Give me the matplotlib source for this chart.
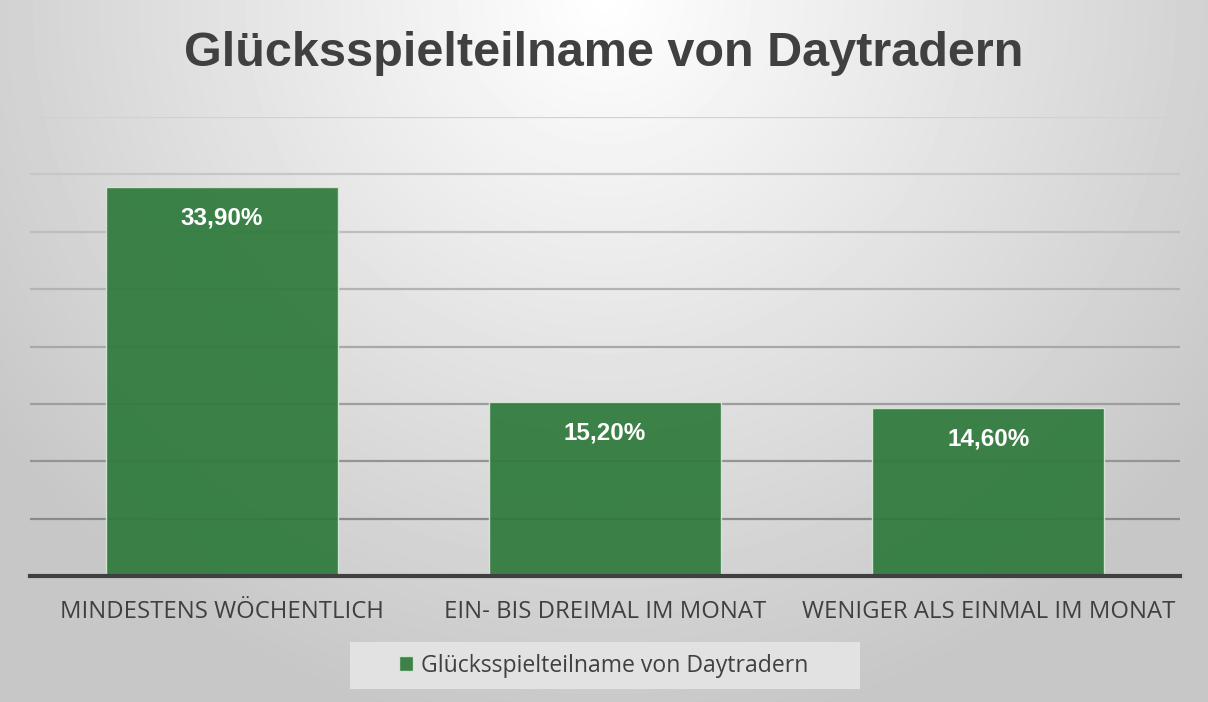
import numpy as np
import matplotlib.pyplot as plt
from matplotlib.patches import Rectangle

# Daten
kategorien = ["MINDESTENS WÖCHENTLICH", "EIN- BIS DREIMAL IM MONAT", "WENIGER ALS EINMAL IM MONAT"]
werte = [33.9, 15.2, 14.6]
wert_labels = ["33,90%", "15,20%", "14,60%"]
titel = "Glücksspielteilname von Daytradern"
serie = "Glücksspielteilname von Daytradern"
gitter = np.arange(5, 41, 5)

plt.rcParams['font.family'] = ['Open Sans', 'DejaVu Sans']

W, H = 1208, 702
fig = plt.figure(figsize=(W / 100, H / 100), dpi=100)

# Hintergrund: radialer Verlauf
bg = fig.add_axes([0, 0, 1, 1])
yy, xx = np.mgrid[0:H, 0:W]
r = np.sqrt(((xx - W * 0.5) / (W * 0.62)) ** 2 + ((yy - 0) / (H * 1.05)) ** 2)
r = np.clip(r, 0, 1)
grau = 1.0 - (1.0 - 0.78) * r
bg.imshow(grau, cmap="gray", vmin=0, vmax=1, aspect="auto", extent=[0, 1, 0, 1], origin="upper")
bg.set_axis_off()

# Diagrammbereich
ax = fig.add_axes([30 / W, 1 - 576 / H, 1150 / W, (576 - 117) / H])
ax.patch.set_alpha(0)
x = np.arange(len(kategorien))
ax.set_xlim(-0.5, len(kategorien) - 0.5)
ax.set_ylim(0, 40)

# Gitterlinien: oben heller, unten dunkler
for g in gitter:
    t = g / 40
    c = 0.50 + 0.32 * t
    ax.axhline(g, color=(c, c, c), linewidth=1.6, zorder=1)

for s in ["top", "right", "left"]:
    ax.spines[s].set_visible(False)
ax.spines["bottom"].set_color("#404040")
ax.spines["bottom"].set_linewidth(3)
ax.spines["bottom"].set_zorder(5)
ax.tick_params(left=False, labelleft=False, bottom=False)

balken = ax.bar(x, werte, width=0.605, color="#2e7a3c", alpha=0.93,
                edgecolor="#d8e8d8", linewidth=1, zorder=3)

for xi, v, lab in zip(x, werte, wert_labels):
    ax.annotate(lab, (xi, v), xytext=(0, -14), textcoords="offset points",
                ha="center", va="top", color="white", fontsize=17.5, fontweight="bold",
                family=["Liberation Sans", "DejaVu Sans"], zorder=6)

ax.set_xticks(x)
ax.set_xticklabels(kategorien, fontsize=17.2, color="#404040")
ax.tick_params(axis="x", pad=14)

fig.text(0.5, 1 - 53 / H, titel, ha="center", va="center", fontsize=35,
         fontweight="bold", color="#404040", family=["Liberation Sans", "DejaVu Sans"])

# Legende
fig.patches.append(Rectangle((350 / W, 1 - 689 / H), 510 / W, 47 / H,
                             transform=fig.transFigure, facecolor="#e2e2e2",
                             edgecolor="none", zorder=1))
leg = fig.legend([balken], [serie], loc="center", bbox_to_anchor=(0.5, 1 - 665.5 / H),
                 frameon=False, fontsize=16.6, handlelength=0.62, handleheight=0.62,
                 handletextpad=0.35, labelcolor="#404040")

fig.savefig("out.png", dpi=100)
